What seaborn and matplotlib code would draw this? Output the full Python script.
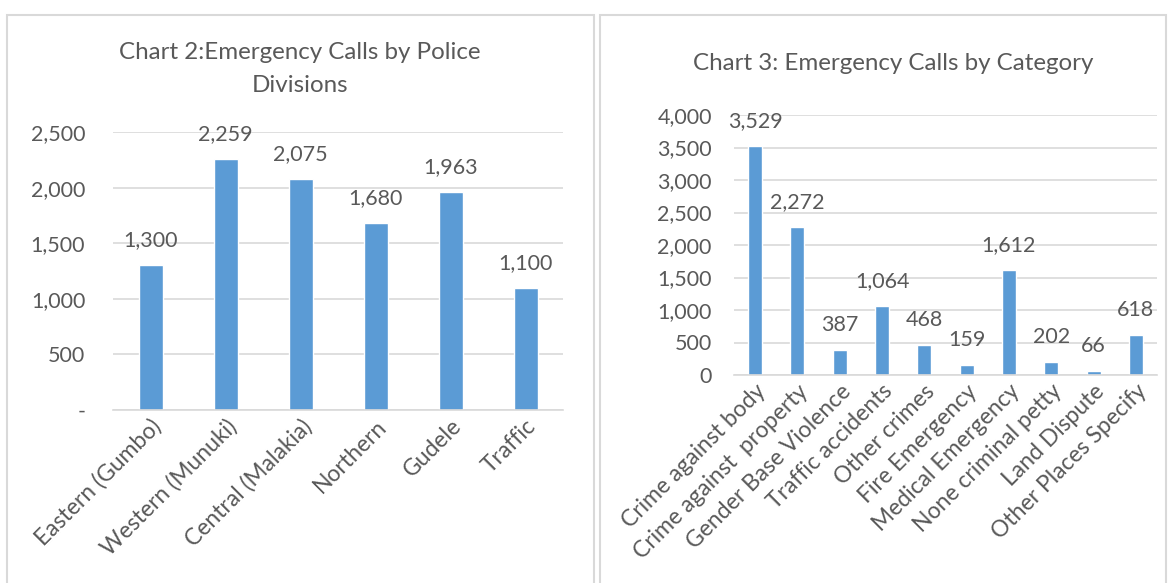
import pandas as pd
import numpy as np
import seaborn as sns
import matplotlib.pyplot as plt
from matplotlib.patches import Rectangle
from matplotlib.ticker import FuncFormatter

# data
divisions = ['Eastern (Gumbo)', 'Western (Munuki)', 'Central (Malakia)', 'Northern', 'Gudele', 'Traffic']
division_calls = [1300, 2259, 2075, 1680, 1963, 1100]

categories = ['Crime against body', 'Crime against  property', 'Gender Base Violence', 'Traffic accidents',
              'Other crimes', 'Fire Emergency', 'Medical Emergency', 'None criminal petty',
              'Land Dispute', 'Other Places Specify']
category_calls = [3529, 2272, 387, 1064, 468, 159, 1612, 202, 66, 618]

sns.set_theme(style='white')
plt.rcParams['font.family'] = ['Lato', 'DejaVu Sans']

bar_color = '#5B9BD5'
txt = '#595959'
grid_col = '#D9D9D9'
fs = 15.5

fig = plt.figure(figsize=(11.72, 5.83), dpi=100)

# panel borders (bottom cut off like the screenshot)
for x0, x1 in [(7, 594), (600, 1166)]:
    fig.patches.append(Rectangle((x0 / 1172, -0.1), (x1 - x0) / 1172, 1.1 - 15 / 583,
                                 transform=fig.transFigure, fill=False,
                                 edgecolor='#D9D9D9', linewidth=1.5))


def style_axes(ax, ymax, step, zero_dash, pad):
    ax.set_ylim(0, ymax)
    ax.set_yticks(np.arange(0, ymax + 1, step))
    if zero_dash:
        ax.yaxis.set_major_formatter(FuncFormatter(lambda v, p: '-' if v == 0 else f'{int(v):,}'))
    else:
        ax.yaxis.set_major_formatter(FuncFormatter(lambda v, p: f'{int(v):,}'))
    ax.grid(axis='y', color=grid_col, linewidth=1.2)
    ax.set_axisbelow(True)
    for s in ['top', 'right', 'left']:
        ax.spines[s].set_visible(False)
    ax.spines['bottom'].set_color(grid_col)
    ax.spines['bottom'].set_linewidth(1.2)
    ax.tick_params(axis='both', length=0, colors=txt, labelsize=fs)
    ax.tick_params(axis='y', pad=pad)
    ax.tick_params(axis='x', pad=4, labelsize=16.5)
    ax.set_xlabel('')
    ax.set_ylabel('')
    ax.set_xlim(-0.5, len(ax.patches) - 0.5)
    plt.setp(ax.get_xticklabels(), rotation=45, ha='right', rotation_mode='anchor')
    for p in ax.patches:
        h = p.get_height()
        ax.annotate(f'{int(h):,}', (p.get_x() + p.get_width() / 2, h),
                    xytext=(0, 18), textcoords='offset points',
                    ha='center', va='center', fontsize=fs, color=txt)


# Chart 2
ax1 = fig.add_axes([113 / 1172, 1 - 410 / 583, 450 / 1172, 278 / 583])
df1 = pd.DataFrame({'division': divisions, 'calls': division_calls})
sns.barplot(data=df1, x='division', y='calls', color=bar_color, width=0.32, saturation=1, ax=ax1)
style_axes(ax1, 2500, 500, True, 20)
fig.text(300 / 1172, 1 - 69 / 583, 'Chart 2:Emergency Calls by Police\nDivisions',
         ha='center', va='center', fontsize=17.4, color=txt, linespacing=1.65)

# Chart 3
ax2 = fig.add_axes([734 / 1172, 1 - 375 / 583, 423 / 1172, 260 / 583])
df2 = pd.DataFrame({'category': categories, 'calls': category_calls})
sns.barplot(data=df2, x='category', y='calls', color=bar_color, width=0.33, saturation=1, ax=ax2)
style_axes(ax2, 4000, 500, False, 16)
fig.text(893 / 1172, 1 - 63 / 583, 'Chart 3: Emergency Calls by Category',
         ha='center', va='center', fontsize=17.4, color=txt)

fig.savefig('out.png', dpi=100)
